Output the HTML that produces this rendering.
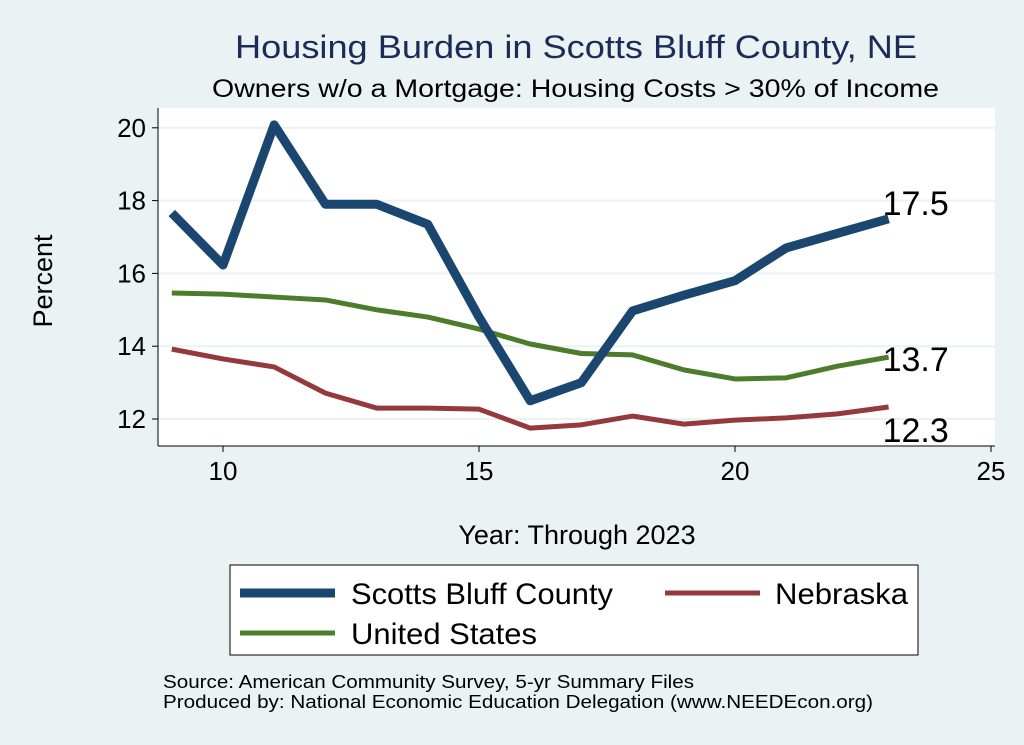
<!DOCTYPE html>
<html><head><meta charset="utf-8"><style>
body{margin:0;background:#eaf2f3;}
svg{display:block;font-family:"Liberation Sans",Arial,sans-serif;}
</style></head><body>
<svg id="c" width="1024" height="745" viewBox="0 0 1024 745" xmlns="http://www.w3.org/2000/svg">
<rect x="0" y="0" width="1024" height="745" fill="#eaf2f3"/>
<text x="235" y="58" font-size="32" fill="#1a2c57" textLength="682" lengthAdjust="spacingAndGlyphs">Housing Burden in Scotts Bluff County, NE</text>
<text x="212" y="97" font-size="25" fill="#000" textLength="727" lengthAdjust="spacingAndGlyphs">Owners w/o a Mortgage: Housing Costs &gt; 30% of Income</text>
<rect x="158" y="108" width="837" height="338" fill="#fff"/>
<g id="grid"></g>
<g id="series"></g>
<g id="axes"></g>
<text x="52" y="281" text-anchor="middle" font-size="27" transform="rotate(-90 52 281)">Percent</text>
<text x="577" y="544" text-anchor="middle" font-size="27">Year: Through 2023</text>
<g>
<rect x="230" y="565" width="688" height="90" fill="#fff" stroke="#000" stroke-width="1"/>
<g><line x1="240" y1="593" x2="335" y2="593" stroke="#1a4670" stroke-width="9"/><text x="351" y="604" font-size="30" textLength="262" lengthAdjust="spacingAndGlyphs">Scotts Bluff County</text></g>
<g><line x1="665" y1="593" x2="760" y2="593" stroke="#943a3d" stroke-width="5"/><text x="775" y="604" font-size="30" textLength="133" lengthAdjust="spacingAndGlyphs">Nebraska</text></g>
<g><line x1="240" y1="633" x2="335" y2="633" stroke="#4d7c2a" stroke-width="5"/><text x="351" y="644" font-size="30" textLength="186" lengthAdjust="spacingAndGlyphs">United States</text></g>
</g>
<text x="163" y="688" font-size="18" textLength="531" lengthAdjust="spacingAndGlyphs">Source: American Community Survey, 5-yr Summary Files</text>
<text x="163" y="708" font-size="18" textLength="710" lengthAdjust="spacingAndGlyphs">Produced by: National Economic Education Delegation (www.NEEDEcon.org)</text>
</svg>
<script>
const years=[9,10,11,12,13,14,15,16,17,18,19,20,21,22,23];
const scotts=[17.66,16.23,20.08,17.9,17.9,17.35,14.8,12.5,13.0,14.97,15.4,15.8,16.7,17.1,17.5];
const nebraska=[13.92,13.65,13.43,12.71,12.3,12.3,12.27,11.75,11.84,12.08,11.86,11.97,12.03,12.14,12.33];
const us=[15.46,15.43,15.35,15.27,15.0,14.8,14.47,14.06,13.8,13.76,13.35,13.1,13.13,13.45,13.7];
const xTicks=[10,15,20,25];
const yTicks=[12,14,16,18,20];
const NS="http://www.w3.org/2000/svg";
const X=v=>223+(v-10)*51.2;
const Y=v=>419-(v-12)*36.4;
function mk(t,a,p){const e=document.createElementNS(NS,t);for(const k in a)e.setAttribute(k,a[k]);p.appendChild(e);return e;}
const grid=document.getElementById('grid'),axes=document.getElementById('axes'),ser=document.getElementById('series');
yTicks.forEach(v=>{
 const g=mk('line',{x1:158,x2:995,y1:Y(v),y2:Y(v),stroke:'#eaf2f3','stroke-width':2},grid);
 
 
 mk('line',{x1:152,x2:158,y1:Y(v),y2:Y(v),stroke:'#000'},axes);
 const t=mk('text',{x:146,y:Y(v)+9,'text-anchor':'end','font-size':26},axes);t.textContent=v;
 
 
});
xTicks.forEach(v=>{
 mk('line',{x1:X(v),x2:X(v),y1:446,y2:452,stroke:'#000'},axes);
 const t=mk('text',{x:X(v),y:480,'text-anchor':'middle','font-size':26},axes);t.textContent=v;
 
 
});
mk('line',{x1:158,x2:158,y1:108,y2:446,stroke:'#000'},axes);
mk('line',{x1:158,x2:995,y1:446,y2:446,stroke:'#000'},axes);
function line(d,col,w,name){
 const p=mk('polyline',{points:years.map((y,i)=>X(y)+','+Y(d[i])).join(' '),fill:'none',stroke:col,'stroke-width':w,'stroke-linejoin':'round'},ser);
 
 
 return d[d.length-1];
}
const lu=line(us,'#4d7c2a',5,'united-states-line');
const ln=line(nebraska,'#943a3d',5,'nebraska-line');
const ls=line(scotts,'#1a4670',9,'scotts-bluff-line');
const lx=X(years[years.length-1])-6;
[[ls,-4,'scotts-end-label'],[lu,14,'us-end-label'],[ln,35,'nebraska-end-label']].forEach(([v,dy,n])=>{
 const t=mk('text',{x:lx,y:Y(v)+dy,'font-size':34},ser);t.textContent=v.toFixed(1);
 
 
});
</script>
</body></html>
